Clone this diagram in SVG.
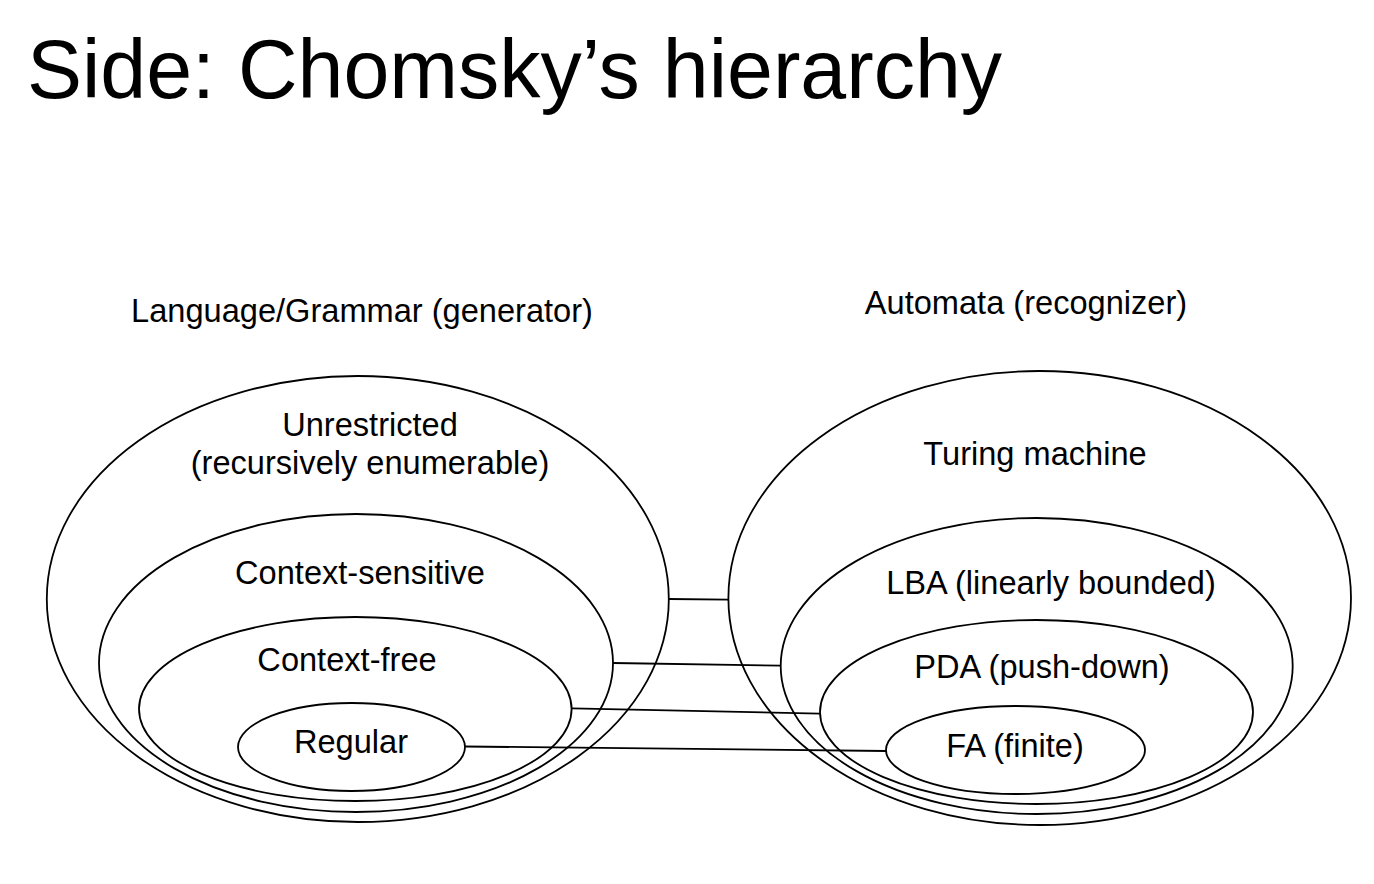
<svg xmlns="http://www.w3.org/2000/svg" width="1374" height="884" viewBox="0 0 1374 884">
<style>
  .bg { fill: #ffffff; }
  .shape { fill: none; stroke: #000000; stroke-width: 1.8; }
  .conn { fill: none; stroke: #000000; stroke-width: 1.8; }
  .lbl { font-family: "Liberation Sans", Arial, sans-serif; font-size: 32.6px; fill: #000000; text-anchor: middle; }
  .title { font-family: "Liberation Sans", Arial, sans-serif; font-size: 82.5px; fill: #000000; }
</style>
<rect class="bg" x="0" y="0" width="1374" height="884"/>
<text class="title" x="27" y="98">Side: Chomsky’s hierarchy</text>
<text class="lbl" x="362" y="322">Language/Grammar (generator)</text>
<text class="lbl" x="1026" y="314">Automata (recognizer)</text>

<g id="connectors">
  <line class="conn" x1="669" y1="599" x2="728" y2="599.6"/>
  <line class="conn" x1="613" y1="663" x2="781" y2="665.6"/>
  <line class="conn" x1="572" y1="708.3" x2="820" y2="713.6"/>
  <line class="conn" x1="465" y1="746.5" x2="886" y2="751"/>
</g>

<g id="unrestricted">
  <ellipse class="shape" cx="357.8" cy="599" rx="311" ry="223"/>
  <text class="lbl" x="370" y="436">Unrestricted</text>
  <text class="lbl" x="370" y="474">(recursively enumerable)</text>
</g>
<g id="context-sensitive">
  <ellipse class="shape" cx="356" cy="663" rx="257" ry="149"/>
  <text class="lbl" x="360" y="584">Context-sensitive</text>
</g>
<g id="context-free">
  <ellipse class="shape" cx="355.3" cy="709" rx="216.3" ry="92"/>
  <text class="lbl" x="347" y="671">Context-free</text>
</g>
<g id="regular">
  <ellipse class="shape" cx="351.5" cy="747" rx="113.5" ry="44"/>
  <text class="lbl" x="351" y="753">Regular</text>
</g>

<g id="turing">
  <ellipse class="shape" cx="1039.7" cy="598" rx="311.3" ry="227"/>
  <text class="lbl" x="1035" y="465">Turing machine</text>
</g>
<g id="lba">
  <ellipse class="shape" cx="1036.7" cy="666" rx="256" ry="148"/>
  <text class="lbl" x="1051" y="594">LBA (linearly bounded)</text>
</g>
<g id="pda">
  <ellipse class="shape" cx="1036.5" cy="712" rx="216.5" ry="92"/>
  <text class="lbl" x="1042" y="678">PDA (push-down)</text>
</g>
<g id="fa">
  <ellipse class="shape" cx="1015.5" cy="750" rx="129.5" ry="44"/>
  <text class="lbl" x="1015" y="757">FA (finite)</text>
</g>
</svg>
